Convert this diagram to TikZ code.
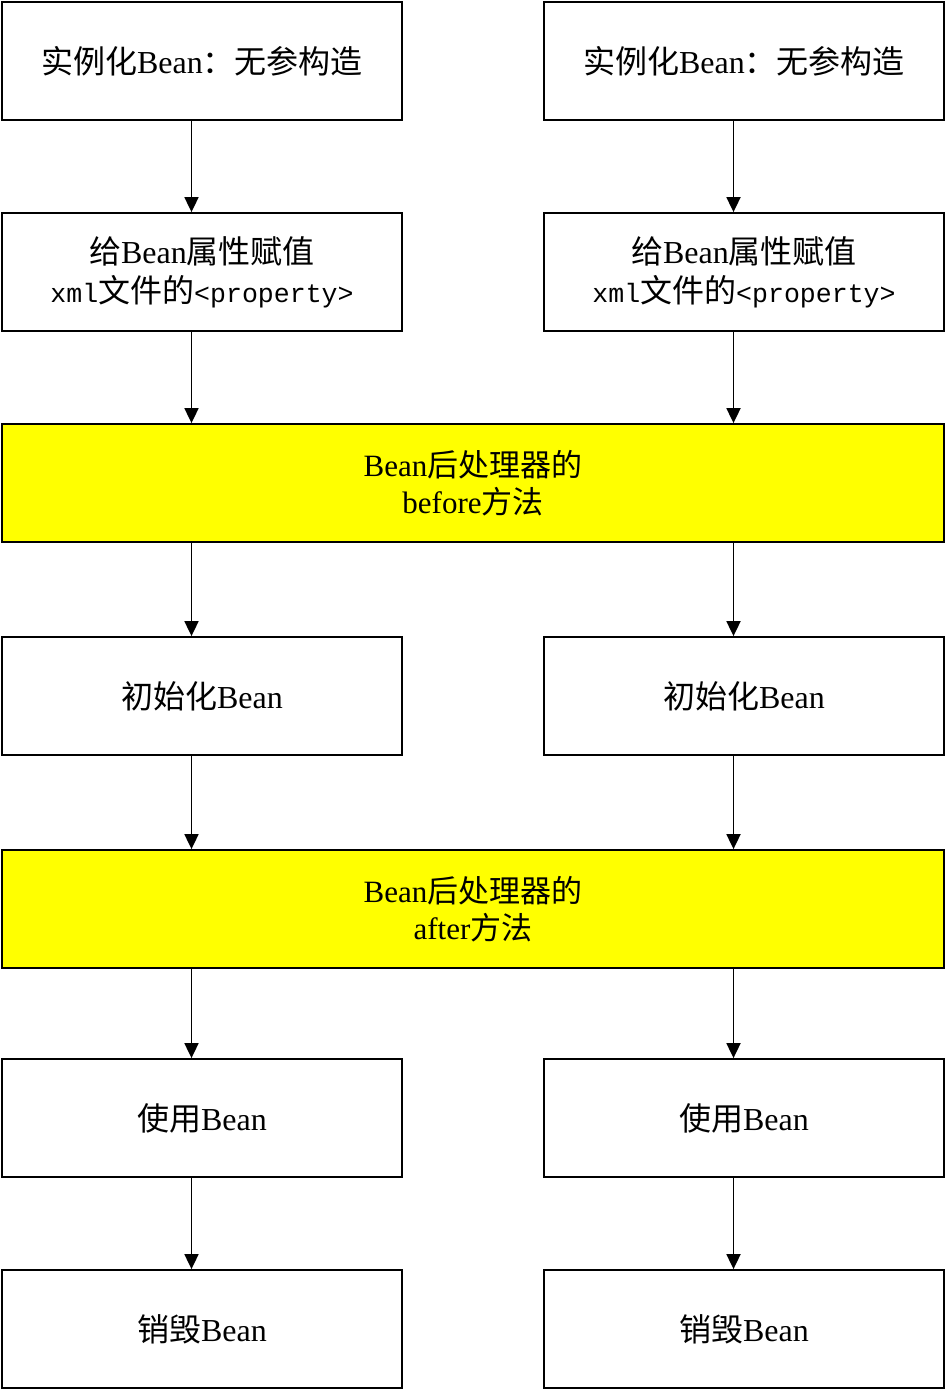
\documentclass[tikz,border=0pt]{standalone}
\usepackage{fontspec}
\setmainfont{Liberation Serif}
\setmonofont[Scale=0.83]{Liberation Mono}
\newfontfamily\cjk{Noto Sans CJK SC}
\usetikzlibrary{arrows.meta}
\definecolor{boxyellow}{RGB}{255,255,0}
\tikzset{
  box/.style={draw=black, line width=1.8pt, fill=white, minimum width=400pt, minimum height=118pt, inner sep=0pt, align=center, font=\fontsize{32}{39}\selectfont},
  ybox/.style={draw=black, line width=1.8pt, fill=boxyellow, minimum width=942pt, minimum height=118pt, inner sep=0pt, align=center, font=\fontsize{31}{37}\selectfont},
  arr/.style={line width=1.8pt, -{Triangle[width=14pt,length=15pt]}}
}
\begin{document}
\begin{tikzpicture}[x=1pt,y=-1pt]
\useasboundingbox (0,0) rectangle (947,1390);
% left column
\node[box] (l1) at (202,61) {{\cjk 实例化}Bean{\cjk ：无参构造}};
\node[box] (l2) at (202,272) {{\cjk 给}Bean{\cjk 属性赋值}\\{\ttfamily xml}{\cjk 文件的}{\ttfamily <property>}};
\node[ybox] (y1) at (473,483) {Bean{\cjk 后处理器的}\\before{\cjk 方法}};
\node[box] (l4) at (202,696) {{\cjk 初始化}Bean};
\node[ybox] (y2) at (473,909) {Bean{\cjk 后处理器的}\\after{\cjk 方法}};
\node[box] (l6) at (202,1118) {{\cjk 使用}Bean};
\node[box] (l7) at (202,1329) {{\cjk 销毁}Bean};
% right column
\node[box] (r1) at (744,61) {{\cjk 实例化}Bean{\cjk ：无参构造}};
\node[box] (r2) at (744,272) {{\cjk 给}Bean{\cjk 属性赋值}\\{\ttfamily xml}{\cjk 文件的}{\ttfamily <property>}};
\node[box] (r4) at (744,696) {{\cjk 初始化}Bean};
\node[box] (r6) at (744,1118) {{\cjk 使用}Bean};
\node[box] (r7) at (744,1329) {{\cjk 销毁}Bean};
% arrows
\foreach \c in {l,r}{
  \draw[arr] ([xshift=-10.5pt]\c1.south) -- ([xshift=-10.5pt]\c2.north);
  \draw[arr] ([xshift=-10.5pt]\c2.south) -- ([xshift=-10.5pt]\c2.south |- y1.north);
  \draw[arr] ([xshift=-10.5pt]\c4.north |- y1.south) -- ([xshift=-10.5pt]\c4.north);
  \draw[arr] ([xshift=-10.5pt]\c4.south) -- ([xshift=-10.5pt]\c4.south |- y2.north);
  \draw[arr] ([xshift=-10.5pt]\c6.north |- y2.south) -- ([xshift=-10.5pt]\c6.north);
  \draw[arr] ([xshift=-10.5pt]\c6.south) -- ([xshift=-10.5pt]\c7.north);
}
\end{tikzpicture}
\end{document}
